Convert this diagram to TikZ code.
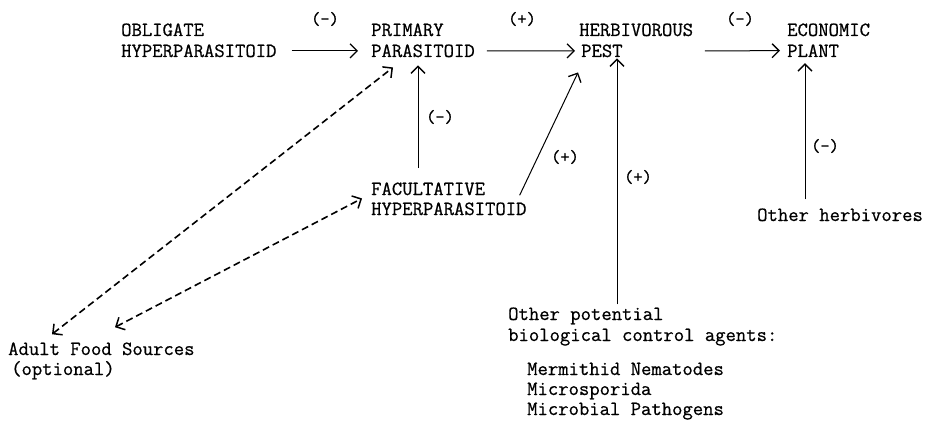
\documentclass[tikz,border=0pt]{standalone}
\usepackage{fontspec}
\newfontfamily\cour{Latin Modern Mono}[FakeBold=0.7]
\usetikzlibrary{arrows.meta}
\begin{document}
\begin{tikzpicture}[x=1pt,y=-1pt,
  txt/.style={inner sep=0pt,anchor=base west,font=\cour\fontsize{20.1}{22}\selectfont},
  sgn/.style={inner sep=0pt,font=\cour\fontsize{18}{20}\selectfont},
  arr/.style={line width=1pt,-{Straight Barb[length=7pt,width=14pt,line width=1.3pt]}},
  darr/.style={line width=1.6pt,dash pattern=on 7pt off 4pt,{Straight Barb[length=7pt,width=14pt,line width=1.5pt]}-{Straight Barb[length=7pt,width=14pt,line width=1.5pt]}}
]
\useasboundingbox (0,0) rectangle (925,425);
% top row
\node[txt] (obl1) at (121,36) {OBLIGATE};
\node[txt] (obl2) at (121,57) {HYPERPARASITOID};
\node[txt] (prim1) at (371,36) {PRIMARY};
\node[txt] (prim2) at (371,57) {PARASITOID};
\node[txt] (herb) at (579,36) {HERBIVOROUS};
\node[txt] (pest) at (581,57) {PEST};
\node[txt] (eco) at (787,36) {ECONOMIC};
\node[txt] (plant) at (787,57) {PLANT};
% middle
\node[txt] (fac1) at (371,195) {FACULTATIVE};
\node[txt] (fac2) at (371,215) {HYPERPARASITOID};
\node[txt] (oh) at (757,221) {Other herbivores};
% bottom
\node[txt] (afs) at (8,355) {Adult Food Sources};
\node[txt] (opt) at (11,375) {(optional)};
\node[txt] (op1) at (508,320) {Other potential};
\node[txt] (op2) at (508,341) {biological control agents:};
\node[txt] (mn) at (527,375) {Mermithid Nematodes};
\node[txt] (ms) at (527,395) {Microsporida};
\node[txt] (mp) at (527,415) {Microbial Pathogens};
% sign labels
\node[sgn] (s1) at (325,19) {(-)};
\node[sgn] (s2) at (522,19) {(+)};
\node[sgn] (s3) at (740,19) {(-)};
\node[sgn] (s4) at (440,117) {(-)};
\node[sgn] (s5) at (565,157) {(+)};
\node[sgn] (s6) at (638,177) {(+)};
\node[sgn] (s7) at (825,146) {(-)};
% connectors
\draw[arr,shorten <=15pt,shorten >=13pt] (obl2.east) -- (prim2.west);
\draw[arr,shorten <=12pt,shorten >=6pt] (prim2.east) -- (pest.west);
\draw[arr,shorten <=82pt,shorten >=7pt] (pest.east) -- (plant.west);
\draw[arr,shorten <=14pt,shorten >=8pt] ([xshift=47pt]fac1.north west) -- ([xshift=47pt]prim2.south west);
\draw[arr] ([shift={(-7,-7)}]fac2.north east) -- ([shift={(-3,15)}]pest.south west);
\draw[arr,shorten <=3pt,shorten >=1pt] ([xshift=109pt]op1.north west) -- ([xshift=36pt]pest.south west);
\draw[arr,shorten <=9pt,shorten >=6pt] ([xshift=48pt]oh.north west) -- ([xshift=18pt]plant.south west);
\draw[darr] ([shift={(44,-8)}]afs.north west) -- ([shift={(22,10)}]prim2.south west);
\draw[darr] ([shift={(107,-15)}]afs.north west) -- ([shift={(-9,3)}]fac1.south west);
\end{tikzpicture}
\end{document}
